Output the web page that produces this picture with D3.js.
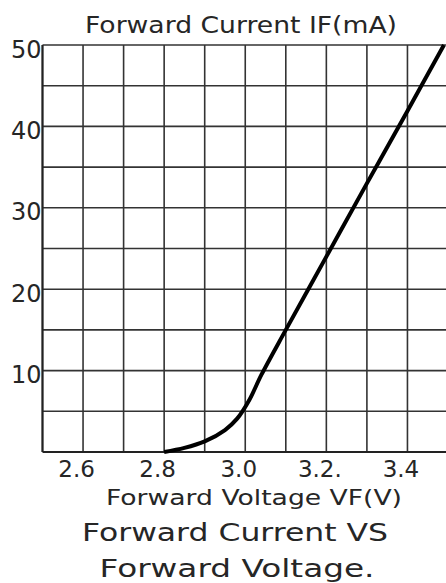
<!DOCTYPE html>
<html>

<head>
    <script src="https://d3js.org/d3.v7.min.js"></script>
    <title>IF vs VF</title>
    <style>
        body { margin: 0; background: #fff; }
        text { font-family: "DejaVu Sans", sans-serif; fill: #262626; }
    </style>
</head>

<body>
    <svg></svg>
    <script>
        // curve
        const voltage = [2.80, 2.85, 2.90, 2.95, 2.98, 3.01, 3.04, 3.10, 3.20, 3.30, 3.40, 3.49];
        const current = [0, 0.5, 1.3, 2.7, 4.1, 6.4, 9.5, 15.0, 24.0, 33.0, 41.9, 50];

        const xTicks = [2.6, 2.8, 3.0, 3.2, 3.4];
        const xTickLabels = ["2.6", "2.8", "3.0", "3.2.", "3.4"];
        const yTicks = [10, 20, 30, 40, 50];
        const xGrid = [2.5, 2.6, 2.7, 2.8, 2.9, 3.0, 3.1, 3.2, 3.3, 3.4, 3.5];
        const yGrid = [5, 10, 15, 20, 25, 30, 35, 40, 45, 50];

        const width = 446;
        const height = 583;

        const svg = d3.select("svg")
            .attr("width", width)
            .attr("height", height);

        const x = d3.scaleLinear().domain([2.5, 3.5]).range([42.5, 448]);
        const y = d3.scaleLinear().domain([0, 50]).range([452, 45]);

        // grid
        svg.append("g").selectAll("line")
            .data(xGrid)
            .enter()
            .append("line")
            .attr("x1", d => x(d)).attr("x2", d => x(d))
            .attr("y1", y(0)).attr("y2", y(50))
            .style("stroke", "#333")
            .style("stroke-width", 1.6);

        svg.append("g").selectAll("line")
            .data(yGrid)
            .enter()
            .append("line")
            .attr("x1", x(2.5)).attr("x2", x(3.5))
            .attr("y1", d => y(d)).attr("y2", d => y(d))
            .style("stroke", "#333")
            .style("stroke-width", 1.6);

        // axes lines
        svg.append("line")
            .attr("x1", x(2.5)).attr("x2", x(2.5))
            .attr("y1", y(0)).attr("y2", y(50))
            .style("stroke", "#222").style("stroke-width", 2);
        svg.append("line")
            .attr("x1", x(2.5)).attr("x2", x(3.5))
            .attr("y1", y(0)).attr("y2", y(0))
            .style("stroke", "#222").style("stroke-width", 2);

        // tick labels
        const xAxis = svg.append("g")
            .attr("transform", `translate(0,${y(0)})`)
            .call(d3.axisBottom(x)
                .tickValues(xTicks)
                .tickSize(0)
                .tickFormat((d, i) => xTickLabels[i]));
        xAxis.select(".domain").remove();
        xAxis.selectAll("text")
            .attr("dx", -7)
            .attr("y", 25)
            .attr("dy", null)
            .style("font-size", "23px")
            .attr("fill", null);
        xAxis.attr("font-family", null).attr("font-size", null);

        const yAxis = svg.append("g")
            .attr("transform", `translate(${x(2.5)},0)`)
            .call(d3.axisLeft(y)
                .tickValues(yTicks)
                .tickSize(0));
        yAxis.select(".domain").remove();
        yAxis.selectAll("text")
            .attr("x", -1)
            .attr("dy", "0.5em")
            .style("font-size", "24px")
            .attr("fill", null);
        yAxis.attr("font-family", null).attr("font-size", null);

        // curve
        const line = d3.line()
            .x((d, i) => x(voltage[i]))
            .y(d => y(d))
            .curve(d3.curveCatmullRom.alpha(0.5));

        svg.append("path")
            .datum(current)
            .attr("d", line)
            .style("fill", "none")
            .style("stroke", "#000")
            .style("stroke-width", 4);

        // titles
        svg.append("text")
            .attr("x", 241).attr("y", 33)
            .attr("text-anchor", "middle")
            .attr("textLength", 312)
            .attr("lengthAdjust", "spacingAndGlyphs")
            .style("font-size", "23px")
            .text("Forward Current IF(mA)");

        svg.append("text")
            .attr("x", 254).attr("y", 505)
            .attr("text-anchor", "middle")
            .attr("textLength", 296)
            .attr("lengthAdjust", "spacingAndGlyphs")
            .style("font-size", "21px")
            .text("Forward Voltage VF(V)");

        svg.append("text")
            .attr("x", 235).attr("y", 541)
            .attr("text-anchor", "middle")
            .attr("textLength", 306)
            .attr("lengthAdjust", "spacingAndGlyphs")
            .style("font-size", "25px")
            .text("Forward Current VS");

        svg.append("text")
            .attr("x", 237).attr("y", 577)
            .attr("text-anchor", "middle")
            .attr("textLength", 275)
            .attr("lengthAdjust", "spacingAndGlyphs")
            .style("font-size", "25px")
            .text("Forward Voltage.");
    </script>
</body>

</html>
